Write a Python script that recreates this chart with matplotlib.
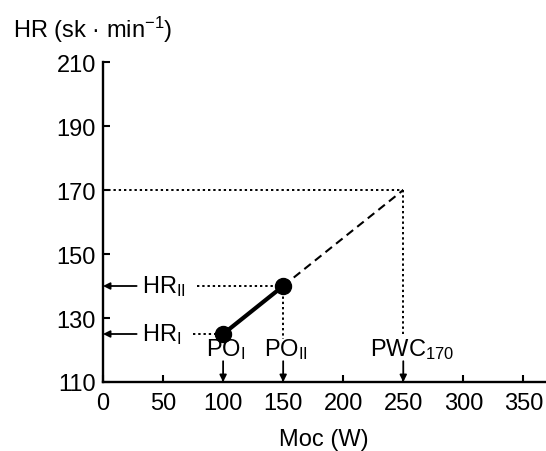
import matplotlib.pyplot as plt

plt.rcParams['font.family'] = ['Liberation Sans', 'DejaVu Sans']
plt.rcParams['mathtext.fontset'] = 'custom'
plt.rcParams['mathtext.rm'] = 'Liberation Sans'
plt.rcParams['mathtext.it'] = 'Liberation Sans'

# data
power = [100, 150]          # PO_I, PO_II (W)
hr = [125, 140]             # HR_I, HR_II
pwc_power = 250
hr_target = 170
xticks = [0, 50, 100, 150, 200, 250, 300, 350]
yticks = [110, 130, 150, 170, 190, 210]

fs = 17

fig = plt.figure(figsize=(5.46, 4.52), dpi=100)
ax = fig.add_axes([103/546, 69/452, 442/546, 320/452])

# guide lines
dot = (0, (1.2, 1.5))
ax.plot([0, pwc_power], [hr_target, hr_target], color='black', ls=dot, lw=1.4)
ax.plot([pwc_power, pwc_power], [hr_target, 125], color='black', ls=dot, lw=1.4)
ax.plot([78, power[1]], [hr[1], hr[1]], color='black', ls=dot, lw=1.4)
ax.plot([75, power[0]], [hr[0], hr[0]], color='black', ls=dot, lw=1.4)
ax.plot([power[1], power[1]], [hr[1], 123.5], color='black', ls=dot, lw=1.4)

# extrapolation + measured segment
ax.plot([power[1], pwc_power], [hr[1], hr_target], color='black', ls=(0, (4, 2.5)), lw=1.5)
ax.plot(power, hr, color='black', lw=3, marker='o', ms=11.5)

# annotations with arrows
ap = dict(arrowstyle='-|>', color='black', lw=1.3, mutation_scale=10, shrinkA=0, shrinkB=0)
for lab, y in [('HR$_{\\mathrm{II}}$', hr[1]), ('HR$_{\\mathrm{I}}$', hr[0])]:
    ax.annotate('', xy=(0, y), xytext=(28, y), arrowprops=ap)
    ax.text(32.5, y, lab, fontsize=fs, va='center', ha='left')

for lab, x, xt in [('PO$_{\\mathrm{I}}$', power[0], 102.5), ('PO$_{\\mathrm{II}}$', power[1], 152.5),
                   ('PWC$_{170}$', pwc_power, 257)]:
    ax.annotate('', xy=(x, 110), xytext=(x, 116.5), arrowprops=ap)
    ax.text(xt, 120.3, lab, fontsize=fs, va='center', ha='center')

ax.set_xlim(0, 368)
ax.set_ylim(110, 210)
ax.set_xticks(xticks)
ax.set_yticks(yticks)
ax.spines['top'].set_visible(False)
ax.spines['right'].set_visible(False)
ax.spines['left'].set_linewidth(1.7)
ax.spines['bottom'].set_linewidth(1.7)
ax.tick_params(direction='in', length=5, width=1.5, labelsize=fs, pad=5)
ax.tick_params(axis='x', pad=7)
ax.set_xlabel('Moc (W)', fontsize=fs, labelpad=10)

fig.text(13/546, 1 - 30/452, 'HR (sk · min$^{\\mathrm{-1}}$)', fontsize=fs, va='center', ha='left')

fig.savefig('out.png', dpi=100)
